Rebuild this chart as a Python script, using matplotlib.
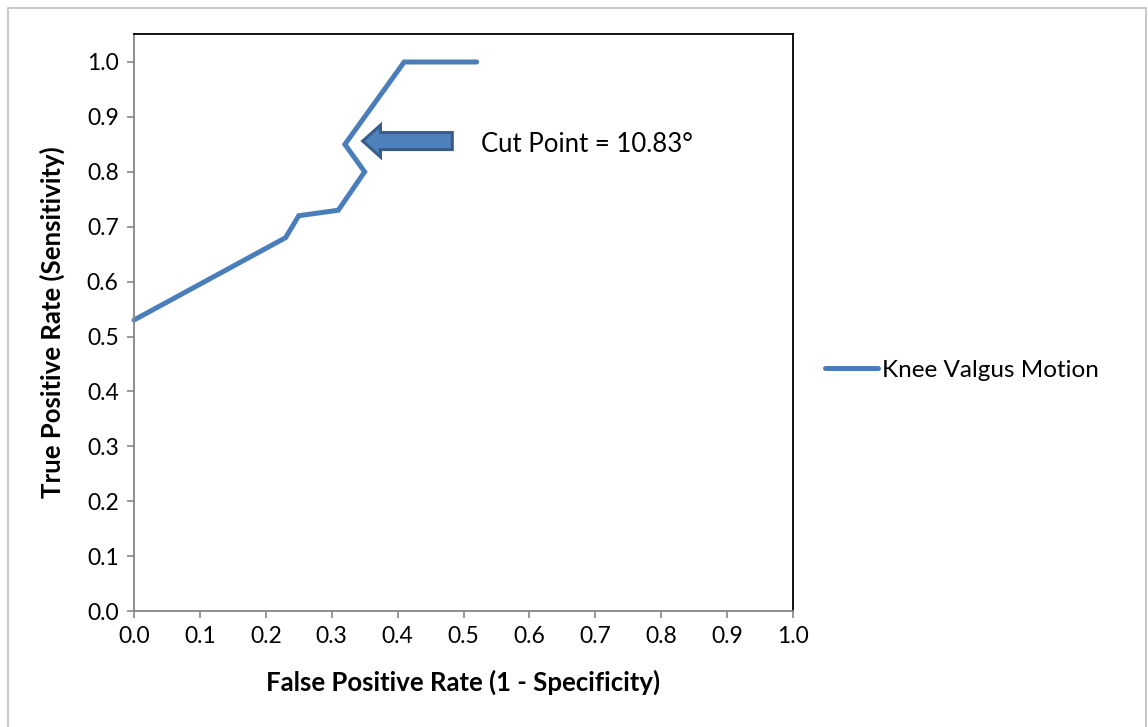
import matplotlib
matplotlib.use("Agg")
import matplotlib.pyplot as plt
from matplotlib.patches import FancyArrow, Rectangle

plt.rcParams['font.family'] = ['Lato', 'DejaVu Sans']

fpr = [0.0, 0.23, 0.25, 0.31, 0.35, 0.32, 0.41, 0.52]
tpr = [0.53, 0.68, 0.72, 0.73, 0.80, 0.85, 1.0, 1.0]
series_name = "Knee Valgus Motion"
ticks = [0.0, 0.1, 0.2, 0.3, 0.4, 0.5, 0.6, 0.7, 0.8, 0.9, 1.0]
annot_text = "Cut Point = 10.83°"

W, H = 1148, 727
fig = plt.figure(figsize=(W / 100, H / 100), dpi=100)
ax = fig.add_axes([134 / W, 1 - 611 / H, (793 - 134) / W, (611 - 34) / H])

# outer chart border
fig.patches.append(Rectangle((8 / W, -0.05), (1146 - 8) / W, 1 - 8 / H + 0.05,
                             transform=fig.transFigure, fill=False,
                             edgecolor='#bfbfbf', linewidth=1.2))

line_color = '#4a7ebb'
ax.plot(fpr, tpr, color=line_color, linewidth=3.6, solid_capstyle='round',
        solid_joinstyle='miter', label=series_name, clip_on=False)

ax.set_xlim(0, 1.0)
ax.set_ylim(0, (611 - 34) / 549)
ax.set_xticks(ticks)
ax.set_yticks(ticks)
ax.set_xticklabels([f"{t:.1f}" for t in ticks])
ax.set_yticklabels([f"{t:.1f}" for t in ticks])
ax.tick_params(axis='both', direction='out', length=5, width=1.2, color='#868686',
               labelsize=16.5, pad=6)
ax.spines['left'].set_color('#868686')
ax.spines['bottom'].set_color('#868686')
ax.spines['top'].set_color('black')
ax.spines['right'].set_color('black')
for s in ax.spines.values():
    s.set_linewidth(1.3)

ax.set_xlabel("False Positive Rate (1 - Specificity)", fontsize=18.5, fontweight='bold', labelpad=16)
ax.set_ylabel("True Positive Rate (Sensitivity)", fontsize=18.5, fontweight='bold', labelpad=16)

# arrow annotation
ax.add_patch(FancyArrow(0.483, 0.856, -0.136, 0.0, width=0.031, head_width=0.058,
                        head_length=0.027, length_includes_head=True,
                        facecolor='#4f81bd', edgecolor='#385d8a', linewidth=2.2))
ax.text(0.527, 0.849, annot_text, fontsize=18.5, va='center', ha='left')

leg = ax.legend(loc='center left', bbox_to_anchor=((815 - 134) / (793 - 134), (611 - 370) / (611 - 34)),
                frameon=False, fontsize=17.5, handlelength=2.2, handletextpad=0.15,
                borderaxespad=0)

fig.savefig("out.png", dpi=100)
